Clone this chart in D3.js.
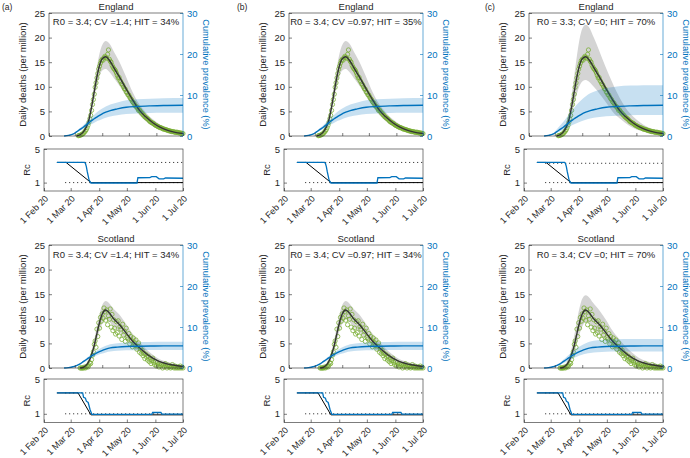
<!DOCTYPE html>
<html lang="en">
<head>
<meta charset="UTF-8">
<title>Daily deaths, cumulative prevalence and Rc</title>
<script src="https://d3js.org/d3.v7.min.js"></script>
<style>
  body { margin: 0; background: #fff; }
  svg { display: block; }
</style>
</head>
<body>
<div id="chart"></div>
<script>
// ---------- data ----------
const panelTags = ["(a)", "(b)", "(c)"];
const regions = ["England", "Scotland"];
const fitNotes = [
  ["R0 = 3.4; CV =1.4; HIT = 34%", "R0 = 3.4; CV =0.97; HIT = 35%", "R0 = 3.3; CV =0; HIT = 70%"],
  ["R0 = 3.4; CV =1.4; HIT = 34%", "R0 = 3.4; CV =0.97; HIT = 34%", "R0 = 3.4; CV =0; HIT = 70%"]
];
const r0Values = [[3.4, 3.4, 3.3], [3.4, 3.4, 3.4]];
const bandSet = ["ab", "ab", "c"];   // which uncertainty band each column shows

const monthTicks = ["2020-02-01", "2020-03-01", "2020-04-01", "2020-05-01", "2020-06-01", "2020-07-01"];
const monthLabels = ["1 Feb 20", "1 Mar 20", "1 Apr 20", "1 May 20", "1 Jun 20", "1 Jul 20"];
const deathTicks = [0, 5, 10, 15, 20, 25];
const prevTicks = [0, 10, 20, 30];
const rcTicks = [1, 5];

// daily deaths per million (one value per day from the start date)
const engDeathStart = "2020-03-05";
const engDeaths = [
  0.05, 0.1, 0.15, 0.2, 0.35, 0.4, 0.6,
  0.8, 1.0, 1.3, 1.7, 2.2, 2.8, 3.5,
  4.2, 5.2, 6.4, 7.4, 8.5, 9.9, 10.8,
  11.8, 12.7, 13.6, 14.2, 14.8, 15.3, 15.6,
  15.4, 15.9, 16.2, 16.0, 15.8, 16.6, 17.5,
  15.6, 15.2, 15.0, 14.4, 14.0, 13.7, 13.5,
  13.2, 12.8, 12.3, 11.8, 11.9, 11.3, 11.0,
  10.6, 10.4, 10.0, 9.6, 9.5, 9.0, 8.8,
  8.4, 8.3, 7.9, 7.6, 7.4, 7.0, 6.8,
  6.6, 6.2, 6.0, 5.9, 5.6, 5.2, 5.3,
  5.0, 4.7, 4.6, 4.3, 4.2, 3.9, 3.8,
  3.6, 3.5, 3.3, 3.1, 2.9, 2.8, 2.7,
  2.6, 2.5, 2.3, 2.2, 2.1, 2.0, 1.9,
  1.8, 1.7, 1.7, 1.6, 1.5, 1.4, 1.4,
  1.3, 1.3, 1.2, 1.1, 1.1, 1.0, 1.0,
  0.9, 0.9, 0.9, 0.8, 0.8, 0.7, 0.8,
  0.7, 0.7, 0.6, 0.6, 0.6, 0.5, 0.5
];
const scoDeathStart = "2020-03-07";
const scoDeaths = [
  0, 0, 0, 0, 0, 0.2, 0,
  0.2, 0.4, 0.2, 0.6, 1.1, 0.9, 1.7,
  2.6, 3.3, 4.8, 5.5, 4.2, 7.9, 6.4,
  9.2, 8.1, 10.3, 9.5, 11.0, 10.1, 12.2,
  11.4, 9.7, 11.8, 8.8, 10.6, 9.9, 12.0,
  8.3, 10.9, 7.6, 9.8, 8.1, 6.9, 9.4,
  7.2, 9.6, 6.5, 8.4, 7.9, 5.8, 8.9,
  6.7, 7.5, 5.4, 8.1, 6.2, 5.9, 7.0,
  4.9, 6.4, 5.6, 4.3, 6.1, 5.2, 4.6,
  5.7, 3.8, 4.4, 5.1, 3.2, 4.0, 2.9,
  3.6, 2.5, 3.0, 1.9, 2.8, 2.2, 1.6,
  2.4, 1.3, 1.8, 0.9, 1.5, 2.0, 1.1,
  0.7, 1.3, 0.4, 1.1, 0.6, 0.2, 0.9,
  0.4, 0.7, 0, 0.6, 0.2, 0.9, 0.4,
  0, 0.6, 0.2, 0.4, 0, 0.2, 0.7,
  0.2, 0, 0.4, 0, 0.2, 0, 0.2,
  0, 0.4, 0, 0.2, 0
];

// model fit of daily deaths with credible band
const engFitDates = ["2020-03-03", "2020-03-07", "2020-03-11", "2020-03-14", "2020-03-17", "2020-03-20",
  "2020-03-23", "2020-03-26", "2020-03-29", "2020-04-01", "2020-04-05", "2020-04-09", "2020-04-14",
  "2020-04-20", "2020-04-27", "2020-05-05", "2020-05-13", "2020-05-20", "2020-05-28", "2020-06-05",
  "2020-06-13", "2020-06-21", "2020-07-01"];
const engFit = [0, 0.25, 0.9, 1.8, 3.3, 5.9, 9.0, 12.0, 14.4, 15.7, 16.1, 15.4, 13.9, 12.1, 9.9, 7.4, 5.2, 3.9, 2.7, 1.8, 1.2, 0.8, 0.5];
const engHiAB = [0, 0.35, 1.2, 2.3, 4.0, 7.0, 10.5, 14.0, 16.8, 18.5, 19.3, 18.8, 17.2, 15.2, 12.4, 9.0, 6.4, 4.8, 3.4, 2.35, 1.6, 1.1, 0.7];
const engLoAB = [0, 0.15, 0.7, 1.4, 2.7, 5.0, 7.8, 10.3, 12.2, 13.3, 13.6, 13.0, 11.8, 10.3, 8.3, 6.1, 4.2, 3.0, 2.0, 1.3, 0.85, 0.55, 0.3];
const engHiC = [0, 0.4, 1.4, 2.7, 4.8, 8.2, 12.3, 16.3, 19.7, 21.8, 22.6, 22.0, 20.0, 17.4, 14.2, 10.8, 7.8, 5.7, 4.0, 2.8, 1.9, 1.3, 0.8];
const engLoC = [0, 0.12, 0.6, 1.2, 2.3, 4.2, 6.5, 8.6, 10.2, 11.1, 11.4, 11.0, 10.0, 8.7, 7.0, 5.0, 3.6, 2.6, 1.7, 1.1, 0.7, 0.45, 0.25];

const scoFitDates = ["2020-03-07", "2020-03-11", "2020-03-15", "2020-03-19", "2020-03-23", "2020-03-26",
  "2020-03-29", "2020-04-01", "2020-04-05", "2020-04-09", "2020-04-13", "2020-04-20", "2020-04-28",
  "2020-05-05", "2020-05-13", "2020-05-20", "2020-05-28", "2020-06-04", "2020-06-12", "2020-06-20", "2020-07-01"];
const scoFit = [0, 0.2, 0.8, 2.2, 4.6, 7.0, 9.3, 11.0, 11.8, 11.2, 10.2, 8.9, 7.1, 5.5, 4.1, 3.0, 2.0, 1.35, 0.9, 0.6, 0.3];
const scoHiAB = [0, 0.3, 1.1, 2.9, 5.8, 8.5, 11.0, 12.8, 13.6, 13.1, 12.2, 10.9, 8.9, 7.0, 5.3, 3.9, 2.7, 1.85, 1.3, 0.9, 0.5];
const scoLoAB = [0, 0.1, 0.55, 1.6, 3.6, 5.6, 7.6, 9.0, 9.9, 9.4, 8.5, 7.3, 5.7, 4.3, 3.1, 2.2, 1.4, 0.9, 0.55, 0.35, 0.15];
const scoHiC = [0, 0.35, 1.3, 3.3, 6.6, 9.6, 12.3, 14.1, 14.8, 14.3, 13.3, 11.8, 9.7, 7.6, 5.8, 4.3, 3.0, 2.05, 1.4, 1.0, 0.55];
const scoLoC = [0, 0.08, 0.45, 1.4, 3.2, 5.0, 6.9, 8.4, 9.4, 9.0, 8.1, 6.9, 5.4, 4.0, 2.9, 2.0, 1.3, 0.85, 0.5, 0.3, 0.12];

// cumulative prevalence (%) with band
const prevDates = ["2020-02-18", "2020-02-23", "2020-02-28", "2020-03-03", "2020-03-07", "2020-03-11",
  "2020-03-15", "2020-03-19", "2020-03-23", "2020-03-27", "2020-03-31", "2020-04-05", "2020-04-10",
  "2020-04-18", "2020-04-28", "2020-05-10", "2020-05-25", "2020-06-09", "2020-07-01"];
const engPrev = [0, 0.15, 0.45, 1.0, 1.6, 2.2, 2.9, 3.6, 4.2, 4.8, 5.3, 5.8, 6.2, 6.6, 7.0, 7.2, 7.35, 7.45, 7.5];
const engPrevLoAB = [0, 0.13, 0.38, 0.82, 1.3, 1.75, 2.25, 2.8, 3.25, 3.7, 4.05, 4.45, 4.75, 5.05, 5.35, 5.5, 5.6, 5.65, 5.7];
const engPrevHiAB = [0, 0.17, 0.53, 1.2, 1.95, 2.7, 3.6, 4.45, 5.2, 5.95, 6.6, 7.2, 7.7, 8.2, 8.7, 8.95, 9.1, 9.2, 9.25];
const engPrevLoC = [0, 0.11, 0.32, 0.7, 1.1, 1.5, 1.95, 2.45, 2.85, 3.25, 3.6, 3.95, 4.25, 4.55, 4.8, 4.95, 5.05, 5.1, 5.1];
const engPrevHiC = [0, 0.22, 0.7, 1.55, 2.55, 3.55, 4.7, 5.85, 6.9, 7.9, 8.8, 9.7, 10.4, 11.1, 11.7, 12.1, 12.3, 12.4, 12.4];
const scoPrev = [0, 0.1, 0.3, 0.6, 1.0, 1.6, 2.2, 2.8, 3.3, 3.8, 4.2, 4.6, 4.9, 5.1, 5.25, 5.3, 5.35, 5.4, 5.4];
const scoPrevLoAB = [0, 0.09, 0.26, 0.52, 0.85, 1.35, 1.85, 2.35, 2.75, 3.15, 3.45, 3.8, 4.0, 4.2, 4.3, 4.35, 4.4, 4.4, 4.4];
const scoPrevHiAB = [0, 0.11, 0.34, 0.7, 1.15, 1.85, 2.55, 3.25, 3.85, 4.45, 4.95, 5.45, 5.8, 6.05, 6.25, 6.3, 6.35, 6.4, 6.4];
const scoPrevLoC = [0, 0.08, 0.23, 0.46, 0.75, 1.2, 1.65, 2.1, 2.5, 2.85, 3.15, 3.45, 3.65, 3.85, 3.95, 4.0, 4.0, 4.05, 4.05];
const scoPrevHiC = [0, 0.12, 0.38, 0.78, 1.3, 2.05, 2.85, 3.6, 4.3, 4.95, 5.5, 6.05, 6.45, 6.75, 6.95, 7.0, 7.05, 7.1, 7.1];

// Rc: estimated (blue) and model (black)
const engRcDates = ["2020-02-15", "2020-03-16", "2020-03-17", "2020-03-18", "2020-03-19", "2020-03-21", "2020-03-23",
  "2020-05-12", "2020-05-13", "2020-05-26", "2020-05-28", "2020-06-02", "2020-06-05", "2020-06-10", "2020-06-12", "2020-07-01"];
const engRc = [3.4, 3.4, 3.3, 2.9, 2.3, 1.3, 0.95, 0.95, 1.58, 1.6, 1.7, 1.7, 1.45, 1.45, 1.55, 1.52];
const engRcModelDates = ["2020-02-15", "2020-02-25", "2020-03-23", "2020-07-01"];
const engRcModel = [3.4, 3.4, 1.0, 1.0];
const scoRcDates = ["2020-02-15", "2020-03-14", "2020-03-15", "2020-03-17", "2020-03-18", "2020-03-20", "2020-03-22",
  "2020-03-24", "2020-05-28", "2020-05-29", "2020-06-07", "2020-06-08", "2020-07-01"];
const scoRc = [3.4, 3.4, 2.9, 2.8, 2.45, 2.3, 1.5, 0.93, 0.93, 1.15, 1.15, 0.97, 0.97];
const scoRcModelDates = ["2020-02-15", "2020-03-09", "2020-03-23", "2020-07-01"];
const scoRcModel = [3.4, 3.4, 0.88, 0.88];
const refLineStart = "2020-02-24";

// ---------- drawing ----------
const W = 690, H = 458;
const font = "'Liberation Sans', Arial, Helvetica, sans-serif";
const blue = "#0072BD", green = "#77AC30", ink = "#262626";
const parse = d3.timeParse("%Y-%m-%d");
const colLeft = [0, 240, 480];
const tagX = [2, 237, 485];
const rowBox = [
  { top: 13, bot: 136, rcTop: 149, rcBot: 191, title: 10, note: 24.5 },
  { top: 245, bot: 368, rcTop: 379, rcBot: 422.5, title: 241.5, note: 257.5 }
];

const zip = (dates, vals) => dates.map((d, i) => ({ date: parse(d), v: vals[i] }));
const zipBand = (dates, lo, hi) => dates.map((d, i) => ({ date: parse(d), lo: lo[i], hi: hi[i] }));
const daily = (start, vals) => vals.map((v, i) => ({ date: d3.timeDay.offset(parse(start), i), v }));

const regionData = [
  {
    deaths: daily(engDeathStart, engDeaths),
    fit: zip(engFitDates, engFit),
    band: { ab: zipBand(engFitDates, engLoAB, engHiAB), c: zipBand(engFitDates, engLoC, engHiC) },
    prev: zip(prevDates, engPrev),
    prevBand: { ab: zipBand(prevDates, engPrevLoAB, engPrevHiAB), c: zipBand(prevDates, engPrevLoC, engPrevHiC) },
    rc: zip(engRcDates, engRc),
    rcModel: zip(engRcModelDates, engRcModel)
  },
  {
    deaths: daily(scoDeathStart, scoDeaths),
    fit: zip(scoFitDates, scoFit),
    band: { ab: zipBand(scoFitDates, scoLoAB, scoHiAB), c: zipBand(scoFitDates, scoLoC, scoHiC) },
    prev: zip(prevDates, scoPrev),
    prevBand: { ab: zipBand(prevDates, scoPrevLoAB, scoPrevHiAB), c: zipBand(prevDates, scoPrevLoC, scoPrevHiC) },
    rc: zip(scoRcDates, scoRc),
    rcModel: zip(scoRcModelDates, scoRcModel)
  }
];

const svg = d3.select("#chart").append("svg")
  .attr("width", W).attr("height", H)
  .style("font-family", font);

function styleAxis(g, color, size) {
  g.attr("font-family", font).attr("font-size", size);
  g.select(".domain").remove();
  g.selectAll("line").attr("stroke", color).attr("stroke-width", 0.6);
  g.selectAll("text").attr("fill", color);
}

function drawPanel(col, row) {
  const bx = colLeft[col], r = rowBox[row], data = regionData[row];
  const g = svg.append("g");
  const dateDomain = [parse("2020-02-01"), parse("2020-07-01")];

  // ----- upper plot -----
  const x = d3.scaleTime().domain(dateDomain).range([bx + 49, bx + 183]);
  const yL = d3.scaleLinear().domain([0, 25]).range([r.bot, r.top]);
  const yR = d3.scaleLinear().domain([0, 30]).range([r.bot, r.top]);

  const band = data.band[bandSet[col]];
  g.append("path").datum(band)
    .attr("fill", "#d4d4d4")
    .attr("d", d3.area().x(d => x(d.date)).y0(d => yL(d.lo)).y1(d => yL(d.hi)).curve(d3.curveMonotoneX));

  g.append("g").selectAll("circle")
    .data(data.deaths)
    .join("circle")
    .attr("cx", d => x(d.date))
    .attr("cy", d => yL(d.v))
    .attr("r", 2.1)
    .attr("fill", "none")
    .attr("stroke", green)
    .attr("stroke-width", 0.75);

  g.append("path").datum(data.fit)
    .attr("fill", "none").attr("stroke", "#333").attr("stroke-width", 1.4)
    .attr("d", d3.line().x(d => x(d.date)).y(d => yL(d.v)).curve(d3.curveMonotoneX));

  const pBand = data.prevBand[bandSet[col]];
  g.append("path").datum(pBand)
    .attr("fill", blue).attr("fill-opacity", 0.22)
    .attr("d", d3.area().x(d => x(d.date)).y0(d => yR(d.lo)).y1(d => yR(d.hi)).curve(d3.curveMonotoneX));
  g.append("path").datum(data.prev)
    .attr("fill", "none").attr("stroke", blue).attr("stroke-width", 1.4)
    .attr("d", d3.line().x(d => x(d.date)).y(d => yR(d.v)).curve(d3.curveMonotoneX));

  // axes of upper plot
  const axL = g.append("g").attr("transform", `translate(${bx + 49},0)`)
    .call(d3.axisLeft(yL).tickValues(deathTicks).tickSizeInner(-3).tickSizeOuter(0).tickPadding(4));
  styleAxis(axL, ink, 9.5);
  const axR = g.append("g").attr("transform", `translate(${bx + 183},0)`)
    .call(d3.axisRight(yR).tickValues(prevTicks).tickSizeInner(-3).tickSizeOuter(0).tickPadding(4));
  styleAxis(axR, blue, 9.5);
  const axB = g.append("g").attr("transform", `translate(0,${r.bot})`)
    .call(d3.axisBottom(x).tickValues(monthTicks.map(parse)).tickFormat("").tickSizeInner(-3).tickSizeOuter(0));
  styleAxis(axB, ink, 9);

  g.append("path")
    .attr("d", `M${bx + 183},${r.top}H${bx + 49}V${r.bot}H${bx + 183}`)
    .attr("fill", "none").attr("stroke", ink).attr("stroke-width", 0.6);
  g.append("line")
    .attr("x1", bx + 183).attr("x2", bx + 183).attr("y1", r.top).attr("y2", r.bot)
    .attr("stroke", blue).attr("stroke-width", 0.6);

  g.append("text")
    .attr("x", bx + 116).attr("y", r.title)
    .attr("text-anchor", "middle").attr("font-size", 9.5).attr("fill", ink)
    .text(regions[row]);
  g.append("text")
    .attr("x", bx + 116).attr("y", r.note)
    .attr("text-anchor", "middle").attr("font-size", 9.5).attr("fill", ink)
    .text(fitNotes[row][col]);

  const midY = (r.top + r.bot) / 2;
  g.append("text")
    .attr("transform", `translate(${bx + 26},${midY}) rotate(-90)`)
    .attr("text-anchor", "middle").attr("font-size", 9.5).attr("fill", ink)
    .text("Daily deaths (per million)");
  g.append("text")
    .attr("transform", `translate(${bx + 202.5},${midY}) rotate(90)`)
    .attr("text-anchor", "middle").attr("font-size", 9.2).attr("fill", blue)
    .text("Cumulative prevalence (%)");

  // ----- Rc plot -----
  const x2 = d3.scaleTime().domain(dateDomain).range([bx + 44, bx + 183]);
  const y2 = d3.scaleLinear().domain([0, 5]).range([r.rcBot, r.rcTop]);

  [r0Values[row][col], 1].forEach(v => {
    g.append("line")
      .attr("x1", x2(parse(refLineStart))).attr("x2", x2(dateDomain[1]))
      .attr("y1", y2(v)).attr("y2", y2(v))
      .attr("stroke", "#000").attr("stroke-width", 0.9).attr("stroke-dasharray", "1,3");
  });
  g.append("path").datum(data.rcModel)
    .attr("fill", "none").attr("stroke", "#000").attr("stroke-width", 1)
    .attr("d", d3.line().x(d => x2(d.date)).y(d => y2(d.v)));
  g.append("path").datum(data.rc)
    .attr("fill", "none").attr("stroke", blue).attr("stroke-width", 1.3)
    .attr("d", d3.line().x(d => x2(d.date)).y(d => y2(d.v)));

  const rcL = g.append("g").attr("transform", `translate(${bx + 44},0)`)
    .call(d3.axisLeft(y2).tickValues(rcTicks).tickFormat(d3.format("d"))
      .tickSizeInner(-3).tickSizeOuter(0).tickPadding(4));
  styleAxis(rcL, ink, 9.5);
  const rcB = g.append("g").attr("transform", `translate(0,${r.rcBot})`)
    .call(d3.axisBottom(x2).tickValues(monthTicks.map(parse))
      .tickFormat((d, i) => monthLabels[i]).tickSizeInner(-3).tickSizeOuter(0));
  styleAxis(rcB, ink, 9);
  rcB.selectAll("text")
    .attr("y", 0).attr("dy", "0.35em")
    .attr("transform", "translate(2,6) rotate(-45)")
    .attr("text-anchor", "end");

  g.append("rect")
    .attr("x", bx + 44).attr("y", r.rcTop)
    .attr("width", 139).attr("height", r.rcBot - r.rcTop)
    .attr("fill", "none").attr("stroke", ink).attr("stroke-width", 0.6);
  g.append("text")
    .attr("transform", `translate(${bx + 30},${(r.rcTop + r.rcBot) / 2}) rotate(-90)`)
    .attr("text-anchor", "middle").attr("font-size", 9.5).attr("fill", ink)
    .text("Rc");
}

for (let row = 0; row < 2; row++) {
  for (let col = 0; col < 3; col++) drawPanel(col, row);
}

panelTags.forEach((t, i) => {
  svg.append("text")
    .attr("x", tagX[i]).attr("y", 10)
    .attr("font-size", 8.5).attr("fill", ink)
    .text(t);
});
</script>
</body>
</html>
